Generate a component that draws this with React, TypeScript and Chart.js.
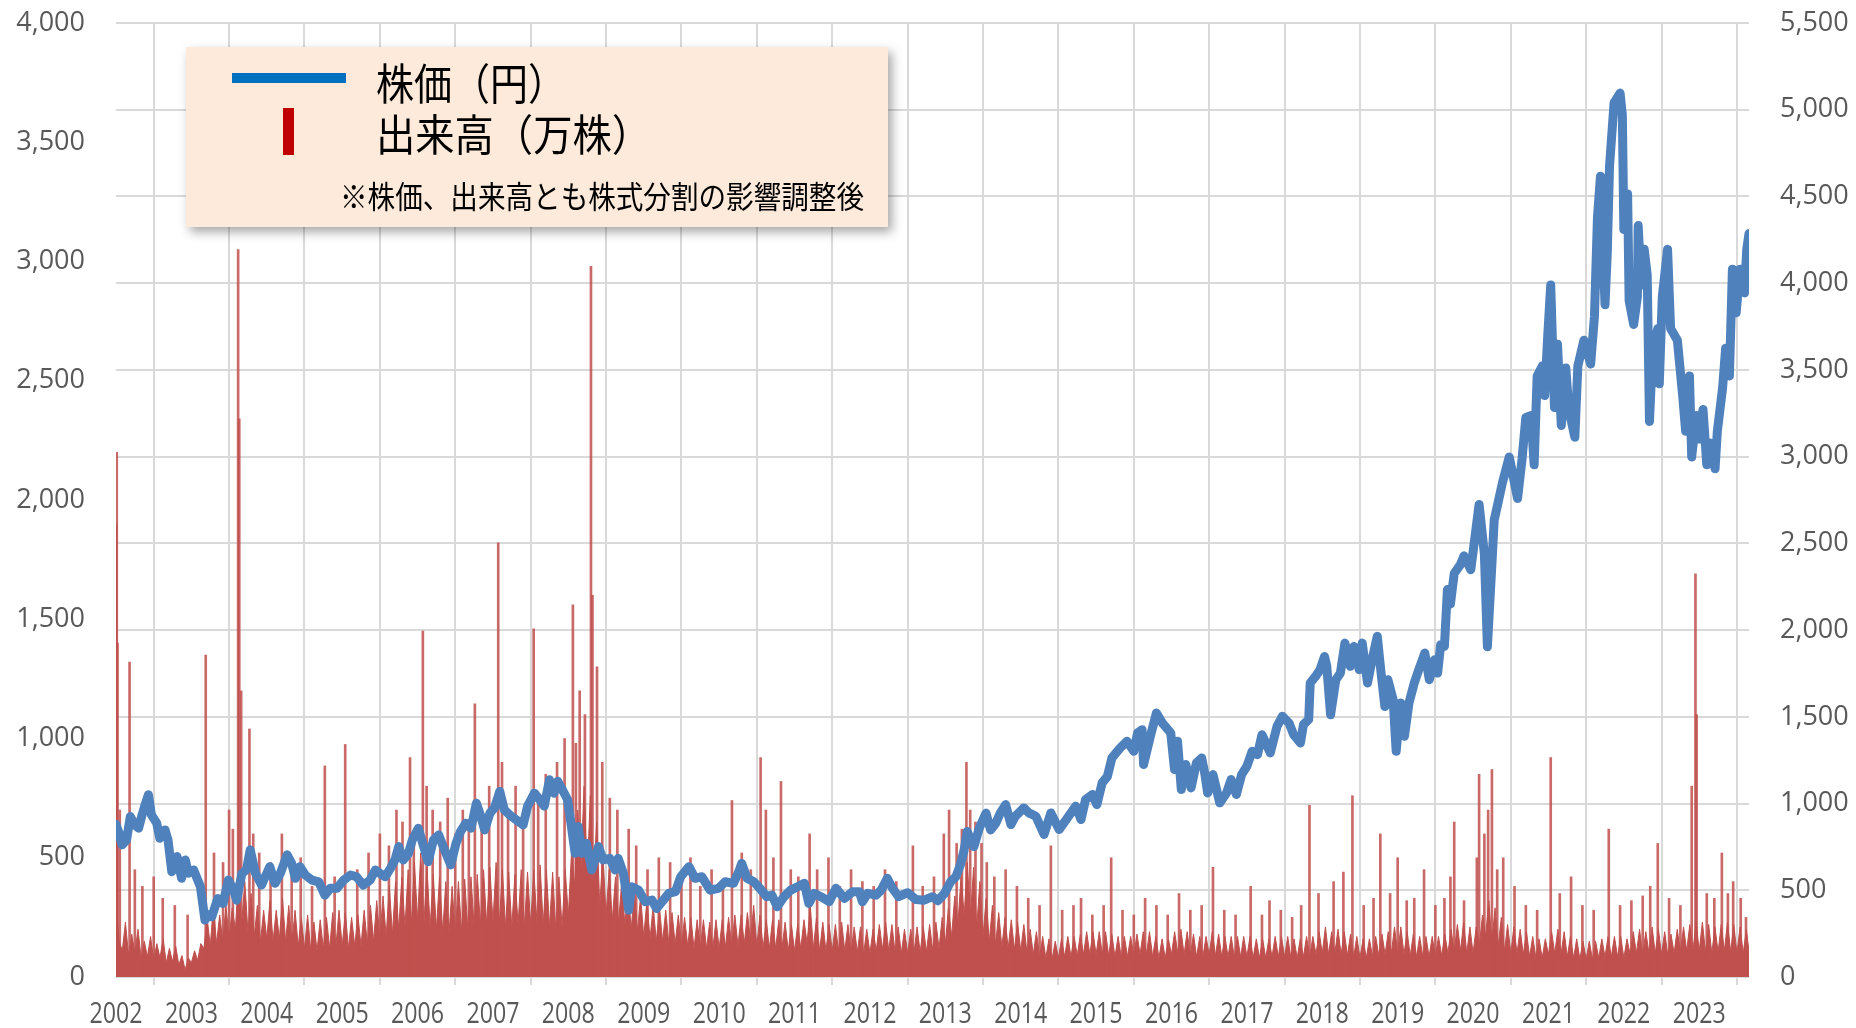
import React, { useEffect, useRef } from "react";
import { Chart, registerables } from "chart.js";

Chart.register(...registerables);

// ---------- DATA ----------
// Price (円), right axis: [decimal year, price]
const pricePoints: [number, number][] = [
  [2002.0, 880], [2002.04, 830], [2002.08, 762], [2002.14, 790], [2002.19, 925], [2002.25, 877], [2002.3, 858], [2002.34, 925],
  [2002.38, 985], [2002.43, 1051], [2002.47, 935], [2002.54, 887], [2002.58, 800], [2002.65, 848], [2002.69, 790], [2002.74, 607],
  [2002.81, 694], [2002.87, 569], [2002.92, 675], [2002.96, 598], [2003.03, 617], [2003.12, 520], [2003.18, 328], [2003.22, 360],
  [2003.27, 347], [2003.35, 453], [2003.42, 424], [2003.49, 559], [2003.56, 501], [2003.6, 443], [2003.67, 598], [2003.73, 617],
  [2003.78, 733], [2003.85, 598], [2003.93, 530], [2003.98, 578], [2004.04, 636], [2004.11, 540], [2004.18, 598], [2004.27, 704],
  [2004.33, 655], [2004.38, 569], [2004.44, 636], [2004.51, 588], [2004.6, 559], [2004.69, 549], [2004.77, 472], [2004.84, 511],
  [2004.93, 511], [2005.02, 559], [2005.11, 588], [2005.19, 578], [2005.28, 530], [2005.37, 559], [2005.44, 617], [2005.5, 598],
  [2005.57, 578], [2005.64, 626], [2005.7, 675], [2005.75, 752], [2005.81, 675], [2005.88, 713], [2005.93, 790], [2006.01, 858],
  [2006.08, 752], [2006.14, 665], [2006.21, 790], [2006.28, 819], [2006.35, 742], [2006.44, 646], [2006.51, 771], [2006.57, 839],
  [2006.64, 887], [2006.71, 858], [2006.78, 1002], [2006.84, 925], [2006.89, 848], [2006.96, 945], [2007.02, 974], [2007.09, 1070],
  [2007.15, 964], [2007.22, 935], [2007.31, 906], [2007.4, 877], [2007.46, 985], [2007.55, 1060], [2007.62, 1022], [2007.68, 985],
  [2007.75, 1137], [2007.81, 1060], [2007.86, 1128], [2007.92, 1080], [2007.99, 1022], [2008.04, 868], [2008.09, 713], [2008.13, 868],
  [2008.18, 713], [2008.24, 771], [2008.31, 617], [2008.4, 752], [2008.46, 675], [2008.55, 684], [2008.62, 617], [2008.66, 684],
  [2008.73, 598], [2008.8, 386], [2008.84, 520], [2008.93, 501], [2009.02, 434], [2009.11, 443], [2009.17, 395], [2009.26, 443],
  [2009.33, 482], [2009.42, 492], [2009.49, 578], [2009.6, 636], [2009.68, 569], [2009.77, 578], [2009.88, 501], [2009.99, 511],
  [2010.08, 549], [2010.19, 540], [2010.26, 607], [2010.3, 655], [2010.37, 569], [2010.46, 549], [2010.54, 511], [2010.63, 463],
  [2010.7, 472], [2010.77, 405], [2010.86, 463], [2010.95, 501], [2011.04, 520], [2011.13, 540], [2011.19, 424], [2011.26, 482],
  [2011.35, 463], [2011.46, 434], [2011.55, 511], [2011.66, 453], [2011.77, 492], [2011.86, 492], [2011.9, 434], [2011.97, 482],
  [2012.08, 472], [2012.15, 501], [2012.23, 569], [2012.3, 511], [2012.38, 463], [2012.5, 486], [2012.61, 447], [2012.72, 443],
  [2012.83, 463], [2012.9, 440], [2012.99, 482], [2013.07, 549], [2013.14, 578], [2013.2, 646], [2013.25, 733], [2013.29, 839],
  [2013.38, 752], [2013.45, 858], [2013.54, 945], [2013.6, 848], [2013.67, 887], [2013.73, 946], [2013.8, 994], [2013.87, 879],
  [2013.93, 927], [2014.04, 975], [2014.11, 946], [2014.2, 927], [2014.31, 822], [2014.4, 946], [2014.51, 850], [2014.62, 917],
  [2014.73, 985], [2014.8, 908], [2014.86, 1023], [2014.95, 1052], [2015.01, 994], [2015.08, 1119], [2015.15, 1157], [2015.21, 1263],
  [2015.32, 1321], [2015.41, 1359], [2015.5, 1301], [2015.55, 1407], [2015.61, 1426], [2015.63, 1225], [2015.72, 1388], [2015.8, 1522],
  [2015.88, 1464], [2015.99, 1407], [2016.04, 1196], [2016.08, 1359], [2016.13, 1081], [2016.19, 1225], [2016.26, 1090], [2016.33, 1234],
  [2016.4, 1263], [2016.44, 1177], [2016.48, 1061], [2016.55, 1167], [2016.64, 1004], [2016.73, 1061], [2016.79, 1138], [2016.86, 1052],
  [2016.93, 1167], [2017.0, 1215], [2017.07, 1301], [2017.14, 1282], [2017.2, 1397], [2017.31, 1292], [2017.4, 1445], [2017.47, 1503],
  [2017.56, 1464], [2017.62, 1397], [2017.71, 1349], [2017.75, 1455], [2017.82, 1484], [2017.84, 1695], [2017.91, 1733], [2017.97, 1772],
  [2018.03, 1848], [2018.06, 1791], [2018.11, 1512], [2018.18, 1714], [2018.24, 1752], [2018.3, 1925], [2018.37, 1791], [2018.42, 1906],
  [2018.49, 1772], [2018.53, 1925], [2018.6, 1695], [2018.67, 1848], [2018.73, 1964], [2018.78, 1752], [2018.83, 1560], [2018.87, 1714],
  [2018.94, 1599], [2018.98, 1301], [2019.04, 1580], [2019.09, 1388], [2019.15, 1580], [2019.22, 1695], [2019.28, 1772], [2019.36, 1868],
  [2019.42, 1714], [2019.49, 1829], [2019.53, 1752], [2019.57, 1915], [2019.62, 1906], [2019.66, 2234], [2019.7, 2150], [2019.75, 2326],
  [2019.83, 2376], [2019.88, 2428], [2019.97, 2348], [2020.08, 2724], [2020.15, 2440], [2020.19, 1904], [2020.26, 2462], [2020.28, 2633],
  [2020.39, 2850], [2020.48, 2998], [2020.59, 2759], [2020.65, 2987], [2020.7, 3226], [2020.77, 3237], [2020.81, 2953], [2020.85, 3465],
  [2020.92, 3523], [2020.95, 3352], [2020.99, 3694], [2021.03, 3990], [2021.08, 3283], [2021.12, 3648], [2021.17, 3180], [2021.23, 3511],
  [2021.27, 3272], [2021.35, 3112], [2021.39, 3523], [2021.47, 3671], [2021.56, 3534], [2021.61, 3808], [2021.65, 4378], [2021.69, 4617],
  [2021.75, 3876], [2021.78, 4172], [2021.81, 4674], [2021.87, 5039], [2021.95, 5096], [2021.98, 4970], [2022.0, 4309], [2022.05, 4514],
  [2022.07, 3899], [2022.13, 3762], [2022.18, 3922], [2022.19, 4332], [2022.23, 3990], [2022.27, 4195], [2022.31, 4047], [2022.34, 3203],
  [2022.38, 3602], [2022.45, 3739], [2022.47, 3420], [2022.51, 3922], [2022.58, 4195], [2022.62, 3739], [2022.71, 3671], [2022.78, 3352],
  [2022.82, 3146], [2022.87, 3465], [2022.9, 2998], [2022.96, 3237], [2023.0, 3101], [2023.05, 3272], [2023.1, 2953], [2023.15, 3078],
  [2023.21, 2930], [2023.24, 3146], [2023.31, 3397], [2023.35, 3625], [2023.4, 3465], [2023.44, 4081], [2023.49, 3830], [2023.54, 4081],
  [2023.6, 3944], [2023.63, 4195], [2023.66, 4286],
];

// Volume (万株), left axis: twice-monthly readings (low / high of each half month), Jan 2002 – Sep 2023
const volumeStartYear = 2002;
const volumeHalfMonthly: number[] = [
  // 2002
  300, 150, 110, 230, 90, 180, 100, 200, 80, 150, 85, 170, 70, 140, 80, 160, 60, 120, 65, 130, 50, 90, 30, 80,
  // 2003
  60, 110, 70, 140, 120, 250, 130, 300, 140, 260, 150, 300, 160, 290, 200, 420, 220, 400, 190, 350, 170, 300, 150, 280,
  // 2004
  160, 320, 150, 280, 160, 330, 150, 300, 140, 280, 130, 250, 120, 260, 110, 230, 110, 240, 120, 250, 120, 270, 130, 280,
  // 2005
  130, 270, 120, 250, 130, 260, 130, 280, 140, 300, 150, 320, 160, 340, 170, 380, 180, 400, 200, 420, 210, 450, 220, 480,
  // 2006
  240, 520, 220, 460, 210, 430, 200, 420, 190, 400, 180, 380, 180, 400, 190, 410, 200, 420, 210, 430, 220, 450, 220, 460,
  // 2007
  230, 480, 220, 450, 210, 440, 210, 430, 220, 450, 210, 440, 220, 450, 230, 470, 220, 450, 210, 440, 200, 420, 210, 450,
  // 2008
  260, 520, 380, 700, 450, 800, 430, 760, 380, 650, 300, 520, 260, 450, 240, 420, 230, 400, 220, 380, 200, 360, 190, 340,
  // 2009
  170, 320, 160, 300, 150, 290, 150, 280, 140, 270, 140, 260, 130, 250, 130, 250, 120, 240, 120, 240, 120, 230, 120, 240,
  // 2010
  120, 240, 125, 250, 130, 260, 130, 260, 140, 270, 150, 300, 130, 260, 120, 240, 120, 240, 120, 240, 120, 230, 110, 220,
  // 2011
  110, 220, 120, 240, 140, 300, 120, 250, 110, 230, 110, 220, 110, 220, 110, 230, 110, 220, 105, 210, 105, 210, 100, 200,
  // 2012
  100, 200, 110, 220, 115, 230, 110, 220, 105, 210, 100, 200, 100, 200, 100, 210, 105, 210, 105, 220, 110, 230, 120, 250,
  // 2013
  140, 290, 170, 340, 220, 420, 260, 480, 250, 460, 210, 400, 170, 330, 150, 300, 135, 270, 125, 250, 120, 240, 115, 230,
  // 2014
  110, 220, 100, 200, 95, 190, 85, 170, 80, 160, 75, 150, 80, 160, 85, 170, 85, 170, 90, 180, 95, 190, 95, 190,
  // 2015
  95, 190, 95, 190, 90, 180, 85, 170, 85, 170, 85, 170, 90, 180, 95, 190, 95, 190, 85, 170, 80, 160, 80, 160,
  // 2016
  95, 190, 100, 200, 95, 190, 90, 180, 85, 170, 85, 170, 95, 190, 90, 180, 85, 170, 85, 170, 85, 170, 85, 170,
  // 2017
  85, 170, 80, 160, 80, 160, 80, 160, 85, 170, 85, 170, 85, 170, 80, 160, 80, 160, 85, 170, 85, 170, 95, 190,
  // 2018
  100, 210, 95, 190, 100, 200, 95, 190, 90, 180, 85, 170, 80, 160, 80, 160, 85, 170, 90, 180, 95, 190, 100, 210,
  // 2019
  100, 210, 95, 190, 90, 180, 85, 170, 85, 170, 85, 170, 85, 170, 90, 180, 100, 200, 105, 220, 110, 230, 100, 210,
  // 2020
  100, 210, 130, 260, 170, 320, 150, 290, 130, 250, 110, 220, 100, 210, 100, 200, 95, 190, 85, 170, 80, 160, 80, 160,
  // 2021
  95, 190, 100, 200, 95, 190, 85, 170, 80, 160, 75, 150, 75, 150, 75, 150, 80, 160, 85, 170, 85, 170, 85, 170,
  // 2022
  80, 160, 95, 190, 100, 200, 95, 190, 100, 210, 100, 200, 95, 190, 90, 180, 100, 200, 105, 210, 110, 220, 110, 230,
  // 2023
  110, 230, 105, 220, 100, 210, 105, 220, 110, 230, 105, 220, 100, 210, 100, 200, 90, 180,
];

// Individual high-volume days (万株): [decimal year, volume]
const volumeSpikes: [number, number][] = [
  [2002.003, 1900], [2002.01, 2200], [2002.02, 1400], [2002.05, 700], [2002.18, 1320], [2002.25, 450], [2002.35, 380], [2002.5, 420],
  [2002.62, 330], [2002.78, 300], [2002.95, 260],
  [2003.19, 1350], [2003.3, 520], [2003.42, 480], [2003.5, 700], [2003.55, 620], [2003.62, 3050], [2003.635, 2340], [2003.66, 1200],
  [2003.77, 1040], [2003.82, 600], [2003.9, 520],
  [2004.05, 480], [2004.2, 600], [2004.33, 420], [2004.45, 500], [2004.6, 380], [2004.77, 885], [2004.9, 420],
  [2005.04, 975], [2005.2, 450], [2005.35, 520], [2005.5, 600], [2005.62, 550], [2005.72, 700], [2005.8, 650], [2005.9, 920], [2005.95, 600],
  [2006.07, 1450], [2006.12, 800], [2006.2, 700], [2006.3, 650], [2006.4, 750], [2006.5, 600], [2006.6, 700], [2006.68, 650],
  [2006.76, 1145], [2006.85, 700], [2006.95, 800],
  [2007.07, 1820], [2007.12, 900], [2007.2, 700], [2007.3, 800], [2007.4, 650], [2007.54, 1460], [2007.6, 750], [2007.7, 850],
  [2007.85, 900], [2007.95, 1000],
  [2008.06, 1560], [2008.1, 980], [2008.15, 1200], [2008.22, 1100], [2008.3, 2980], [2008.32, 1600], [2008.38, 1300], [2008.45, 900],
  [2008.55, 750], [2008.65, 700], [2008.8, 620], [2008.9, 550],
  [2009.05, 450], [2009.2, 500], [2009.35, 480], [2009.5, 420], [2009.62, 500], [2009.75, 380], [2009.9, 450],
  [2010.05, 400], [2010.17, 740], [2010.3, 520], [2010.42, 450], [2010.55, 920], [2010.62, 700], [2010.72, 500], [2010.82, 820], [2010.95, 450],
  [2011.05, 420], [2011.2, 600], [2011.3, 450], [2011.45, 500], [2011.6, 380], [2011.75, 450], [2011.9, 400],
  [2012.05, 380], [2012.2, 450], [2012.35, 400], [2012.57, 550], [2012.7, 380], [2012.85, 420], [2012.98, 600],
  [2013.05, 700], [2013.15, 560], [2013.22, 620], [2013.28, 900], [2013.33, 700], [2013.4, 650], [2013.48, 560], [2013.55, 480],
  [2013.65, 420], [2013.8, 450], [2013.95, 380],
  [2014.1, 330], [2014.25, 300], [2014.4, 550], [2014.55, 280], [2014.7, 300], [2014.8, 330], [2014.95, 260],
  [2015.1, 300], [2015.2, 500], [2015.35, 280], [2015.5, 260], [2015.65, 330], [2015.8, 300], [2015.95, 260],
  [2016.1, 350], [2016.25, 280], [2016.4, 300], [2016.55, 460], [2016.7, 280], [2016.85, 260],
  [2017.05, 380], [2017.2, 260], [2017.3, 320], [2017.45, 280], [2017.6, 250], [2017.72, 300], [2017.83, 720], [2017.95, 350],
  [2018.15, 400], [2018.28, 440], [2018.4, 760], [2018.55, 300], [2018.68, 330], [2018.77, 600], [2018.9, 350],
  [2019.0, 500], [2019.12, 320], [2019.22, 330], [2019.35, 450], [2019.5, 300], [2019.62, 330], [2019.7, 420], [2019.75, 650], [2019.88, 320],
  [2020.05, 500], [2020.08, 850], [2020.15, 600], [2020.2, 700], [2020.25, 870], [2020.32, 450], [2020.4, 500], [2020.55, 380],
  [2020.7, 300], [2020.85, 280],
  [2021.03, 920], [2021.15, 350], [2021.3, 420], [2021.45, 300], [2021.6, 280], [2021.8, 620], [2021.95, 300],
  [2022.1, 320], [2022.25, 340], [2022.35, 380], [2022.45, 560], [2022.6, 330], [2022.75, 300], [2022.9, 800], [2022.95, 1690], [2022.965, 1100],
  [2023.1, 350], [2023.2, 330], [2023.3, 520], [2023.38, 350], [2023.45, 400], [2023.55, 330], [2023.62, 250],
];

const xMin = 2002;
const xMax = 2023.66;
const volumeAxisMax = 4000;
const priceAxisMax = 5500;
const axisStep = 500;

const legendPriceLabel = "株価（円）";
const legendVolumeLabel = "出来高（万株）";
const legendNote = "※株価、出来高とも株式分割の影響調整後";

// ---------- COMPONENT ----------
const W = 1856;
const H = 1028;
const TICK_COLOR = "#595959";
const GRID_COLOR = "#D9D9D9";
const CLEAR = "rgba(0,0,0,0)";

function drawFitted(ctx: CanvasRenderingContext2D, text: string, x: number, y: number, width: number) {
  const w = ctx.measureText(text).width;
  ctx.save();
  ctx.translate(x, y);
  ctx.scale(width / w, 1);
  ctx.fillText(text, 0, 0);
  ctx.restore();
}

export default function App() {
  const canvasRef = useRef<HTMLCanvasElement | null>(null);

  useEffect(() => {
    document.body.style.margin = "0";
    const canvas = canvasRef.current;
    if (!canvas) return;

    const volumeArea = volumeHalfMonthly.map((v, i) => ({ x: volumeStartYear + i / 24, y: v }));
    const spikes = volumeSpikes.map(([x, y]) => ({ x, y }));
    const prices = pricePoints.map(([x, y]) => ({ x, y }));

    const overlayPlugin = {
      id: "overlay",
      afterDraw(chart: any) {
        const ctx: CanvasRenderingContext2D = chart.ctx;
        const xs = chart.scales.x;
        // x-axis year labels (condensed)
        ctx.save();
        ctx.fillStyle = TICK_COLOR;
        ctx.font = '29px "Open Sans"';
        ctx.textAlign = "center";
        ctx.textBaseline = "middle";
        xs.ticks.forEach((t: any) => {
          const px = xs.getPixelForValue(t.value);
          ctx.fillText(String(Math.round(t.value)), px, chart.chartArea.bottom + 38, 53);
        });
        ctx.restore();

        // legend box
        const bx = 186, by = 47, bw = 702, bh = 180;
        ctx.save();
        ctx.shadowColor = "rgba(0,0,0,0.35)";
        ctx.shadowBlur = 10;
        ctx.shadowOffsetX = 4;
        ctx.shadowOffsetY = 5;
        ctx.fillStyle = "#FDEADA";
        ctx.fillRect(bx, by, bw, bh);
        ctx.restore();

        ctx.save();
        ctx.fillStyle = "#0070C0";
        ctx.fillRect(232, 73, 114, 10);
        ctx.fillStyle = "#C00000";
        ctx.fillRect(283, 108, 11, 47);

        ctx.fillStyle = "#000000";
        ctx.textAlign = "left";
        ctx.textBaseline = "middle";
        try { (ctx as any).fontKerning = "none"; } catch (e) {}
        ctx.font = '43px "Noto Sans CJK JP"';
        drawFitted(ctx, legendPriceLabel, 376, 84, 190);
        drawFitted(ctx, legendVolumeLabel, 376, 135, 275);
        ctx.font = '31px "Noto Sans CJK JP"';
        drawFitted(ctx, legendNote, 340, 196, 524);
        ctx.restore();
      },
    };

    const chart = new Chart(canvas, {
      type: "line",
      data: {
        datasets: [
          {
            type: "line",
            label: legendPriceLabel,
            data: prices,
            yAxisID: "y1",
            borderColor: "#4F81BD",
            borderWidth: 9,
            pointRadius: 0,
            tension: 0,
            borderJoinStyle: "round",
            borderCapStyle: "round",
            order: 0,
          } as any,
          {
            type: "bar",
            label: legendVolumeLabel + " spikes",
            data: spikes,
            yAxisID: "y",
            backgroundColor: "rgba(192,80,77,0.85)",
            barThickness: 2,
            grouped: false,
            order: 1,
          } as any,
          {
            type: "line",
            label: legendVolumeLabel,
            data: volumeArea,
            yAxisID: "y",
            borderColor: "#C0504D",
            backgroundColor: "#C0504D",
            borderWidth: 1,
            pointRadius: 0,
            tension: 0,
            fill: "origin",
            order: 2,
          } as any,
        ],
      },
      options: {
        responsive: false,
        animation: false,
        layout: { padding: { top: 23, left: 0, right: 0, bottom: 0 } },
        plugins: {
          legend: { display: false },
          tooltip: { enabled: false },
        },
        scales: {
          x: {
            type: "linear",
            min: xMin,
            max: xMax,
            offset: false,
            grid: { color: GRID_COLOR, lineWidth: 2, drawTicks: true, tickLength: 8 },
            border: { display: false },
            ticks: {
              stepSize: 1,
              includeBounds: false,
              autoSkip: false,
              maxRotation: 0,
              padding: 0,
              color: CLEAR,
              font: { size: 20, family: "Open Sans" },
            },
            afterFit: (scale: any) => {
              scale.height = 51;
            },
          },
          y: {
            type: "linear",
            position: "left",
            min: 0,
            max: volumeAxisMax,
            grid: { display: true, drawOnChartArea: false, drawTicks: true, tickLength: 31, tickColor: CLEAR, color: CLEAR },
            border: { display: false },
            ticks: {
              stepSize: axisStep,
              padding: 0,
              color: TICK_COLOR,
              font: { size: 27, family: "Open Sans" },
              callback: (v: any) => Number(v).toLocaleString("en-US"),
            },
            afterFit: (scale: any) => {
              scale.width = 116;
            },
          },
          y1: {
            type: "linear",
            position: "right",
            min: 0,
            max: priceAxisMax,
            grid: { color: GRID_COLOR, lineWidth: 2, drawTicks: true, tickLength: 31, tickColor: CLEAR },
            border: { display: false },
            ticks: {
              stepSize: axisStep,
              padding: 0,
              color: TICK_COLOR,
              font: { size: 27, family: "Open Sans" },
              callback: (v: any) => Number(v).toLocaleString("en-US"),
            },
            afterFit: (scale: any) => {
              scale.width = W - 1749;
            },
          },
        },
      },
      plugins: [overlayPlugin],
    } as any);

    return () => {
      chart.destroy();
    };
  }, []);

  return (
    <div style={{ width: W, height: H, position: "relative", background: "#fff" }}>
      <canvas ref={canvasRef} width={W} height={H} style={{ display: "block" }} />
    </div>
  );
}
